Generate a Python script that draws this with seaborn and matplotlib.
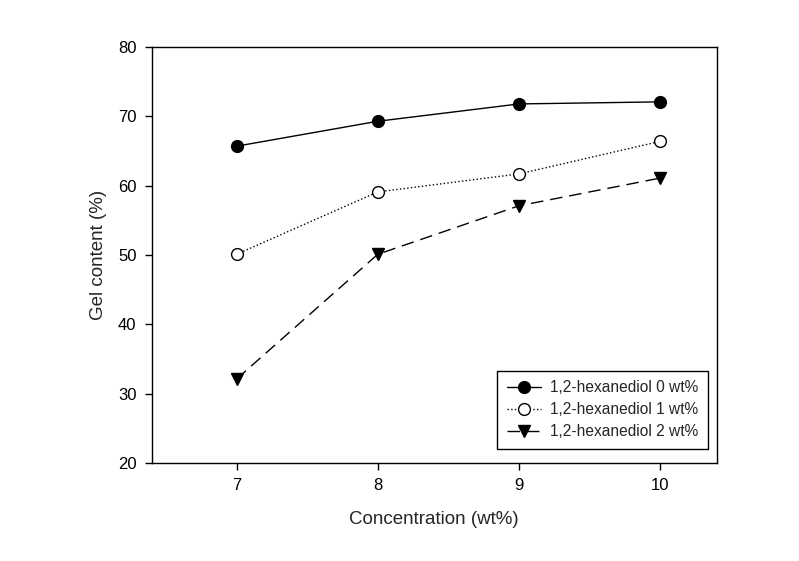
import pandas as pd
import matplotlib.pyplot as plt
import seaborn as sns

# data
concentration = [7, 8, 9, 10]
hex_0 = [65.7, 69.3, 71.8, 72.1]
hex_1 = [50.1, 59.1, 61.7, 66.4]
hex_2 = [32.1, 50.1, 57.1, 61.1]
labels = ["1,2-hexanediol 0 wt%", "1,2-hexanediol 1 wt%", "1,2-hexanediol 2 wt%"]

sns.set_style("white")
plt.rcParams["font.family"] = ["Liberation Sans", "DejaVu Sans"]

fig = plt.figure(figsize=(7.99, 5.61), dpi=100)
ax = fig.add_axes([0.190, 0.175, 0.707, 0.741])

styles = [
    dict(linestyle="-", marker="o", markerfacecolor="black", dashes=None),
    dict(linestyle=":", marker="o", markerfacecolor="white", dashes=None),
    dict(linestyle="--", marker="v", markerfacecolor="black", dashes=(9, 5)),
]

for vals, lab, st in zip([hex_0, hex_1, hex_2], labels, styles):
    df = pd.DataFrame({"x": concentration, "y": vals})
    line_kw = dict(color="black", linewidth=1.0, marker=st["marker"], markersize=8.5,
                   markerfacecolor=st["markerfacecolor"], markeredgecolor="black",
                   markeredgewidth=1.0, label=lab)
    if st["dashes"] is not None:
        sns.lineplot(data=df, x="x", y="y", ax=ax, dashes=False, **line_kw)
        ax.lines[-1].set_dashes(st["dashes"])
    else:
        sns.lineplot(data=df, x="x", y="y", ax=ax, linestyle=st["linestyle"], **line_kw)

ax.set_xlim(6.4, 10.4)
ax.set_ylim(20, 80)
ax.set_xticks([7, 8, 9, 10])
ax.set_yticks([20, 30, 40, 50, 60, 70, 80])
ax.tick_params(direction="out", length=5, width=1, colors="black", labelsize=12,
               bottom=True, left=True, pad=6)
for sp in ax.spines.values():
    sp.set_color("black")
    sp.set_linewidth(1.0)

ax.set_xlabel("Concentration (wt%)", fontsize=13.5, labelpad=13)
ax.set_ylabel("Gel content (%)", fontsize=13.5, labelpad=8)

leg = ax.legend(loc="lower right", bbox_to_anchor=(0.984, 0.034), borderaxespad=0,
                fontsize=11.2, frameon=True, fancybox=False, edgecolor="black",
                framealpha=1, handlelength=2.2, handletextpad=0.6, borderpad=0.6,
                labelspacing=0.45)
leg.get_frame().set_linewidth(1.0)

fig.savefig("out.png", dpi=100)
